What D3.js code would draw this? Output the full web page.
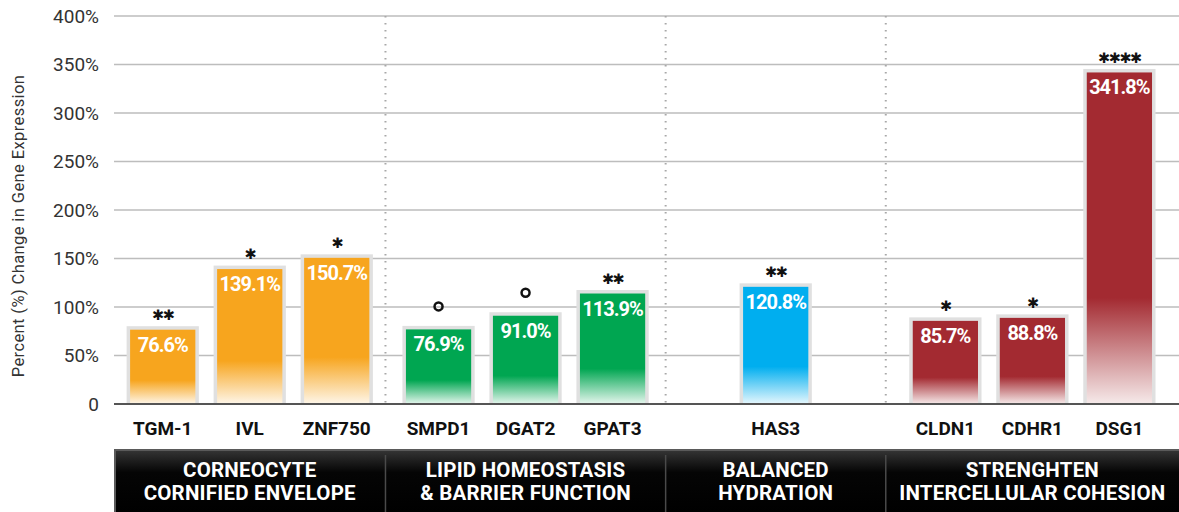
<!DOCTYPE html>
<html>
<head>
<meta charset="utf-8">
<script src="https://cdn.jsdelivr.net/npm/d3@7"></script>
<style>
  html, body { margin: 0; padding: 0; background: #fff; }
  svg { display: block; font-family: Roboto, "Noto Sans", sans-serif; }
</style>
</head>
<body>
<div id="chart"></div>
<script>
// dados do gráfico
const grupos = [
  ["CORNEOCYTE", "CORNIFIED ENVELOPE"],
  ["LIPID HOMEOSTASIS", "& BARRIER FUNCTION"],
  ["BALANCED", "HYDRATION"],
  ["STRENGHTEN", "INTERCELLULAR COHESION"]
];
const genes = ["TGM-1", "IVL", "ZNF750", "SMPD1", "DGAT2", "GPAT3", "HAS3", "CLDN1", "CDHR1", "DSG1"];
const valores = [76.6, 139.1, 150.7, 76.9, 91.0, 113.9, 120.8, 85.7, 88.8, 341.8];
const grupoDoGene = [0, 0, 0, 1, 1, 1, 2, 3, 3, 3];
const significancia = ["**", "*", "*", "o", "o", "**", "**", "*", "*", "****"];
const coresGrupo = ["#F7A51E", "#00A651", "#00AEEF", "#A32A31"];
const yTicks = [0, 50, 100, 150, 200, 250, 300, 350, 400];

// layout (largura de cada grupo em "slots" de barra)
const larguraGrupo = [3.12, 3.22, 2.53, 3.37];
const W = 1179, H = 512;
const plot = { left: 114, right: 1179, top: 16, bottom: 404 };

const svg = d3.select("#chart").append("svg")
    .attr("width", W)
    .attr("height", H);

const defs = svg.append("defs");

const inicioGrupo = d3.cumsum([0, ...larguraGrupo]);
const x = d3.scaleLinear()
    .domain([0, d3.sum(larguraGrupo)])
    .range([plot.left, plot.right]);
const y = d3.scaleLinear()
    .domain([0, 400])
    .range([plot.bottom, plot.top]);

// posição de cada barra (centro em slots)
const centros = genes.map((g, i) => {
  const gi = grupoDoGene[i];
  const membros = grupoDoGene.map((v, j) => v === gi ? j : -1).filter(j => j >= 0);
  const k = membros.indexOf(i);
  const n = membros.length;
  return inicioGrupo[gi] + (larguraGrupo[gi] - n) / 2 + k + 0.5;
});
const larguraBarra = x(0.75) - x(0);

// gradientes por cor
coresGrupo.forEach((c, i) => {
  const grad = defs.append("linearGradient")
      .attr("id", "grad" + i)
      .attr("x1", 0).attr("y1", 0).attr("x2", 0).attr("y2", 1);
  grad.append("stop").attr("offset", "0").attr("stop-color", c);
  grad.append("stop").attr("offset", "0.68").attr("stop-color", c);
  grad.append("stop").attr("offset", "1").attr("stop-color", d3.interpolateRgb(c, "#fff")(0.9));
});

// grade horizontal
svg.append("g")
  .selectAll("line")
  .data(yTicks.filter(t => t > 0))
  .join("line")
    .attr("x1", plot.left)
    .attr("x2", plot.right)
    .attr("y1", d => y(d))
    .attr("y2", d => y(d))
    .attr("stroke", "#bdbdbd")
    .attr("stroke-width", 1.5);

// rótulos do eixo y
svg.append("g")
  .selectAll("text")
  .data(yTicks)
  .join("text")
    .attr("x", 99)
    .attr("y", d => y(d))
    .attr("dy", "0.36em")
    .attr("text-anchor", "end")
    .attr("font-size", 19)
    .attr("fill", "#333")
    .text(d => d === 0 ? "0" : d + "%");

svg.append("text")
    .attr("transform", `translate(24, ${(plot.top + plot.bottom) / 2 + 16}) rotate(-90)`)
    .attr("text-anchor", "middle")
    .attr("font-size", 16.5)
    .attr("letter-spacing", 0.4)
    .attr("fill", "#333")
    .text("Percent (%) Change in Gene Expression");

// divisórias pontilhadas
const divisorias = inicioGrupo.slice(1, -1);
svg.append("g")
  .selectAll("line")
  .data(divisorias)
  .join("line")
    .attr("x1", d => x(d))
    .attr("x2", d => x(d))
    .attr("y1", plot.top)
    .attr("y2", plot.bottom)
    .attr("stroke", "#a8a8a8")
    .attr("stroke-width", 2)
    .attr("stroke-dasharray", "1.5,5.5");

// barras
const barras = svg.append("g")
  .selectAll("g")
  .data(genes.map((g, i) => ({ gene: g, valor: valores[i], grupo: grupoDoGene[i], sig: significancia[i], c: centros[i] })))
  .join("g");

barras.append("rect")
    .attr("x", d => x(d.c) - larguraBarra / 2 - 3.5)
    .attr("y", d => y(d.valor) - 3.5)
    .attr("width", larguraBarra + 7)
    .attr("height", d => plot.bottom - y(d.valor) + 3.5)
    .attr("fill", "#e0e0e0");

barras.append("rect")
    .attr("x", d => x(d.c) - larguraBarra / 2)
    .attr("y", d => y(d.valor))
    .attr("width", larguraBarra)
    .attr("height", d => plot.bottom - y(d.valor))
    .attr("fill", d => `url(#grad${d.grupo})`);

barras.append("text")
    .attr("x", d => x(d.c))
    .attr("y", d => y(d.valor) + 22)
    .attr("text-anchor", "middle")
    .attr("font-size", 20)
    .attr("font-weight", "bold")
    .attr("letter-spacing", -1)
    .attr("fill", "#fff")
    .text(d => d.valor.toFixed(1) + "%");

// marcadores de significância
barras.filter(d => d.sig !== "o").append("text")
    .attr("x", d => x(d.c))
    .attr("y", d => y(d.valor) - 17)
    .attr("dy", "0.5em")
    .attr("text-anchor", "middle")
    .attr("font-family", "DejaVu Sans")
    .attr("font-size", 14.5)
    .attr("letter-spacing", -1.5)
    .attr("fill", "#111")
    .text(d => "\u2731".repeat(d.sig.length));

barras.filter(d => d.sig === "o").append("circle")
    .attr("cx", d => x(d.c))
    .attr("cy", d => y(d.valor) - 23)
    .attr("r", 4)
    .attr("fill", "none")
    .attr("stroke", "#111")
    .attr("stroke-width", 2.5);

// rótulos dos genes
barras.append("text")
    .attr("x", d => x(d.c))
    .attr("y", 435)
    .attr("text-anchor", "middle")
    .attr("font-size", 19)
    .attr("font-weight", "bold")
    .attr("fill", "#111")
    .text(d => d.gene);

// linha de base
svg.append("line")
    .attr("x1", plot.left)
    .attr("x2", plot.right)
    .attr("y1", plot.bottom)
    .attr("y2", plot.bottom)
    .attr("stroke", "#555")
    .attr("stroke-width", 2);

// faixa de cabeçalhos dos grupos
const gradFaixa = defs.append("linearGradient")
    .attr("id", "faixa")
    .attr("x1", 0).attr("y1", 0).attr("x2", 0).attr("y2", 1);
gradFaixa.append("stop").attr("offset", "0").attr("stop-color", "#333");
gradFaixa.append("stop").attr("offset", "0.35").attr("stop-color", "#050505");
gradFaixa.append("stop").attr("offset", "1").attr("stop-color", "#000");

svg.append("rect")
    .attr("x", plot.left)
    .attr("y", 449)
    .attr("width", plot.right - plot.left)
    .attr("height", H - 449)
    .attr("fill", "#5a5a5a");
svg.append("rect")
    .attr("x", plot.left + 2)
    .attr("y", 451)
    .attr("width", plot.right - plot.left - 2)
    .attr("height", H - 451)
    .attr("fill", "url(#faixa)");

svg.append("g")
  .selectAll("line")
  .data(divisorias)
  .join("line")
    .attr("x1", d => x(d))
    .attr("x2", d => x(d))
    .attr("y1", 455)
    .attr("y2", H)
    .attr("stroke", "#4a4a4a")
    .attr("stroke-width", 1.5);

const rotulos = svg.append("g")
  .selectAll("text")
  .data(grupos)
  .join("text")
    .attr("x", (d, i) => x(inicioGrupo[i] + larguraGrupo[i] / 2))
    .attr("text-anchor", "middle")
    .attr("font-size", 20.5)
    .attr("font-weight", "bold")
    .attr("letter-spacing", 0.2)
    .attr("fill", "#fff");

rotulos.selectAll("tspan")
  .data(d => d)
  .join("tspan")
    .attr("x", function() { return d3.select(this.parentNode).attr("x"); })
    .attr("y", (d, i) => 477 + i * 23)
    .text(d => d);
</script>
</body>
</html>
